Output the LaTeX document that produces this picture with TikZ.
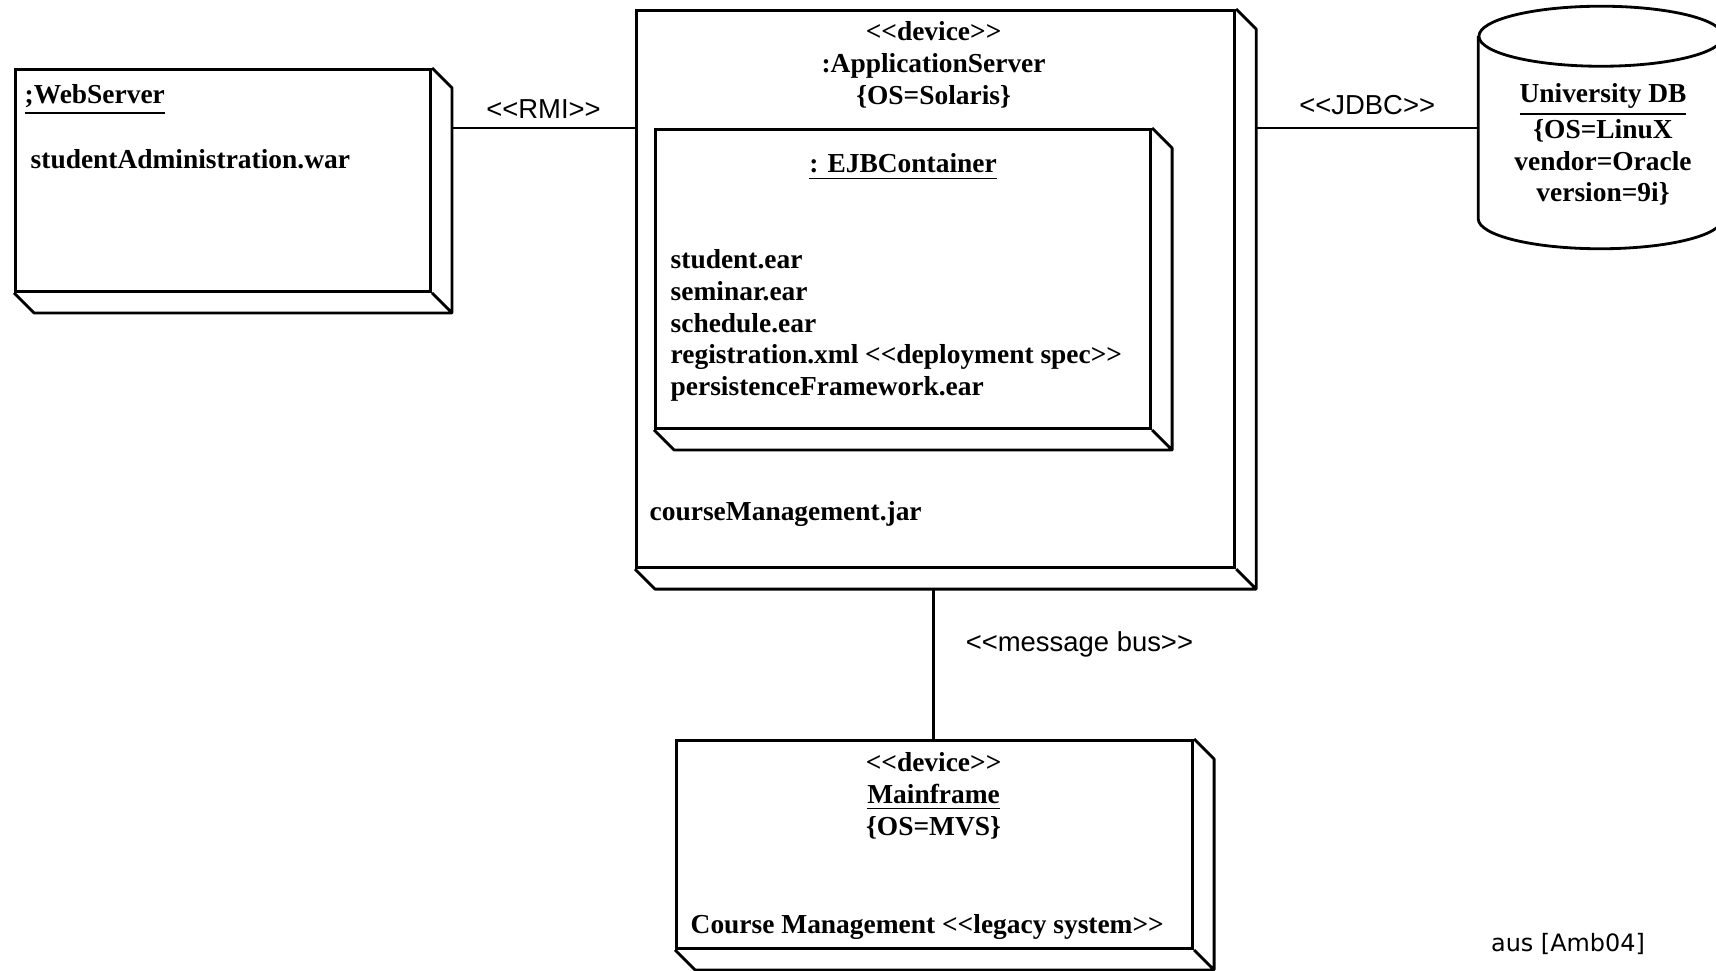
\documentclass[tikz,border=0pt]{standalone}
\usepackage{fontspec}
\setmainfont{Liberation Serif}
\newfontfamily\connfont{Liberation Sans}
\newfontfamily\notefont{DejaVu Sans}
\usetikzlibrary{calc,positioning}
\newcommand{\sopen}{<\kern0pt<}
\newcommand{\sclose}{>\kern0pt>}
\newcommand{\nodedepth}[1]{%
  \draw[sideline] (#1.north east) -- ++(20,20) |- ($(#1.south west)+(20,20)$) -- (#1.south west)
    (#1.south east) -- ++(20,20);}

\begin{document}
\begin{tikzpicture}[x=0.01cm, y=-0.01cm,
  devicebox/.style={draw, line width=0.8pt, inner sep=0pt, anchor=north west},
  sideline/.style={line width=0.8pt, line join=round},
  conn/.style={line width=0.7pt},
  boldtxt/.style={font=\fontsize{7.8}{9}\selectfont\bfseries, inner sep=0pt},
  conntxt/.style={font=\connfont\fontsize{7.8}{9}\selectfont, inner sep=0pt}]
\useasboundingbox (0,0) rectangle (1716,971);
\clip (0,0) rectangle (1716,971);

% web server
\node[devicebox, minimum width=41.5mm, minimum height=22.2mm] (web) at (14,68) {};
\nodedepth{web}
\node[boldtxt, anchor=base west] (webname) at ($(web.north west)+(10,36)$) {\underline{;WebServer}};
\node[boldtxt, anchor=base west] (webwar) at ($(web.north west)+(16,101)$) {studentAdministration.war};

% application server
\node[devicebox, minimum width=59.8mm, minimum height=55.7mm] (app) at (635,9) {};
\nodedepth{app}
\node[boldtxt, anchor=north, align=center] (apphead) at ($(app.north)+(-2,12)$)
  {\sopen device\sclose\\:ApplicationServer\\\{OS=Solaris\}};
\node[boldtxt, anchor=base west] (jar) at ($(app.south west)+(14,-49)$) {courseManagement.jar};

% EJB container
\node[devicebox, minimum width=49.5mm, minimum height=29.9mm] (ejb) at (654,128) {};
\nodedepth{ejb}
\node[boldtxt, anchor=base] (ejbname) at ($(ejb.north)+(0,45)$) {\underline{: EJBContainer}};
\node[boldtxt, anchor=north west, align=left] (ejbfiles) at ($(ejb.north west)+(16,121)$)
  {student.ear\\seminar.ear\\schedule.ear\\registration.xml \sopen deployment spec\sclose\\persistenceFramework.ear};

% mainframe
\node[devicebox, minimum width=51.6mm, minimum height=20.8mm] (main) at (675,739) {};
\nodedepth{main}
\node[boldtxt, anchor=north, align=center] (mainhead) at ($(main.north)+(-1,13)$)
  {\sopen device\sclose\\\underline{Mainframe}\\\{OS=MVS\}};
\node[boldtxt, anchor=base west] (legacy) at ($(main.south west)+(15,-16)$) {Course Management \sopen legacy system\sclose};

% database
\node[minimum width=24.4mm, minimum height=18.1mm, inner sep=0pt] (db) at (1601,127.5) {};
\draw[sideline] (db.north west) -- (db.south west) arc[start angle=180, end angle=360, x radius=12.2mm, y radius=3mm] -- (db.north east);
\draw[sideline] (db.north) ellipse [x radius=12.2mm, y radius=3mm];
\node[boldtxt, anchor=north, align=center] (dbtext) at ($(db.north)+(2,47)$)
  {\underline{University DB}\\\{OS=LinuX\\vendor=Oracle\\version=9i\}};

% connections
\draw[conn] (web.north east) ++(20,60) coordinate (rmiend) -- (rmiend -| app.west)
  node[conntxt, midway, yshift=1.9mm] (rmi) {\sopen RMI\sclose};
\draw[conn] (app.north east) ++(20,119) coordinate (jdbcend) -- (jdbcend -| db.west)
  node[conntxt, midway, yshift=2.3mm] (jdbc) {\sopen JDBC\sclose};
\draw[conn] (app.south) ++(-2,20) coordinate (busend) -- (busend |- main.north)
  node[conntxt, pos=0.37, anchor=west, xshift=3.1mm] (bus) {\sopen message bus\sclose};

\node[font=\notefont\fontsize{6.8}{8}\selectfont, inner sep=0pt] (source) at (1568,944) {aus [Amb04]};
\end{tikzpicture}
\end{document}
